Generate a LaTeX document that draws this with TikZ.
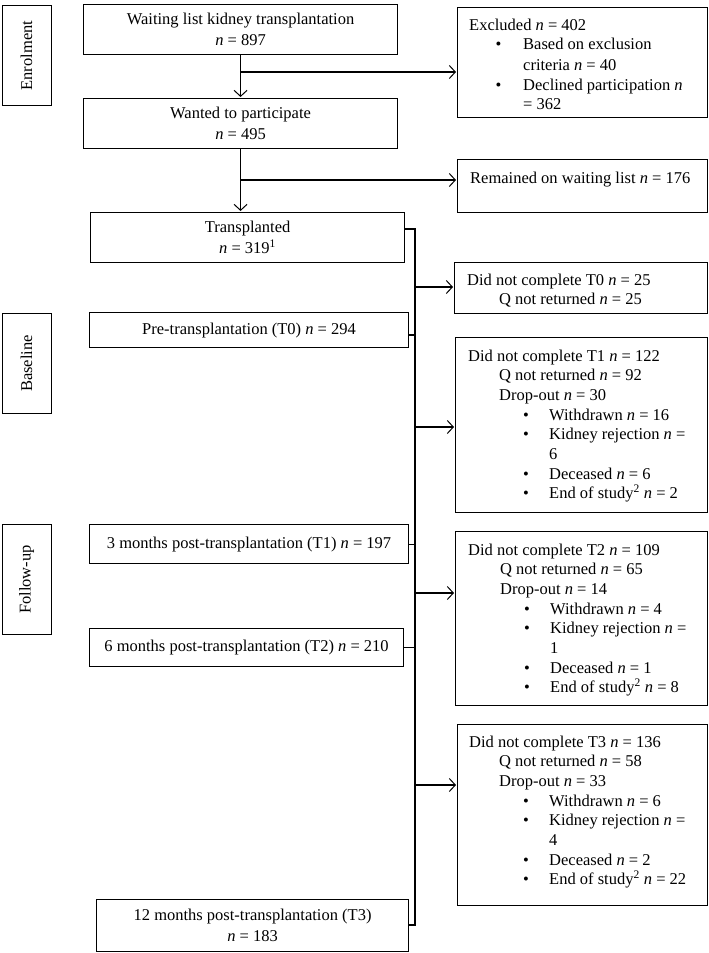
\documentclass[tikz,border=0pt]{standalone}
\usepackage{fontspec}
\setmainfont{Liberation Serif}
\usetikzlibrary{arrows.meta}
\newcommand\nn{\textit{n}}
\newcommand\bul[3]{\hspace*{#1}\makebox[#2][l]{•}#3}
\begin{document}
\begin{tikzpicture}[x=1pt,y=-1pt,
  box/.style={draw, line width=1.1pt, inner sep=0pt, anchor=north west, align=center,
    font=\fontsize{16.5}{20.5}\selectfont},
  txt/.style={anchor=base west, inner sep=0pt, font=\fontsize{16.5}{19.7}\selectfont},
  line/.style={line width=1.1pt},
  arr/.style={line width=1.1pt, -{Straight Barb[length=6pt,width=13pt,line width=1pt]}, shorten >=1pt}]
\useasboundingbox (0,0) rectangle (709,953);
% stage labels
\node[box, minimum width=49pt, minimum height=100pt] (enr) at (1.5,5) {};
\node[rotate=90, font=\fontsize{16.5}{20}\selectfont] (enrt) at (enr.center) {Enrolment};
\node[box, minimum width=49pt, minimum height=100pt] (bas) at (1.5,313) {};
\node[rotate=90, font=\fontsize{16.5}{20}\selectfont] (bast) at (bas.center) {Baseline};
\node[box, minimum width=49pt, minimum height=110pt] (fol) at (1.5,524) {};
\node[rotate=90, font=\fontsize{16.5}{20}\selectfont] (folt) at (fol.center) {Follow-up};
% main column
\node[box, minimum width=314pt, minimum height=50pt] (wl) at (83,4) {Waiting list kidney transplantation\\\nn{} = 897};
\node[box, minimum width=314pt, minimum height=50pt] (wp) at (83,98) {Wanted to participate\\\nn{} = 495};
\node[box, minimum width=314pt, minimum height=50pt] (tr) at (90,212) {Transplanted\\\nn{} = 319\textsuperscript{1}};
\node[box, minimum width=319pt, minimum height=35pt] (t0) at (89,312) {Pre-transplantation (T0) \nn{} = 294};
\node[box, minimum width=319pt, minimum height=39pt] (t1) at (89,524) {3 months post-transplantation (T1) \nn{} = 197};
\node[box, minimum width=314pt, minimum height=38pt] (t2) at (89,628) {6 months post-transplantation (T2) \nn{} = 210};
\node[box, minimum width=312pt, minimum height=52pt] (t3) at (96,899) {12 months post-transplantation (T3)\\\nn{} = 183};
% side boxes
\node[box, minimum width=250pt, minimum height=110pt] (exc) at (457,7) {};
\node[txt, font=\fontsize{16.5}{20}\selectfont] (exct) at ([xshift=12pt,yshift=-23pt]exc.north west) {\parbox[t]{236pt}{%
Excluded \nn{} = 402\\
\bul{26.5pt}{27.5pt}{Based on exclusion}\\
\hspace*{54pt}criteria \nn{} = 40\\
\bul{26.5pt}{27.5pt}{Declined participation \nn}\\
\hspace*{54pt}= 362}};
\node[box, minimum width=250pt, minimum height=53pt] (rem) at (457,159) {};
\node[txt] (remt) at ([xshift=13pt,yshift=-24pt]rem.north west) {Remained on waiting list \nn{} = 176};
\node[box, minimum width=253pt, minimum height=51pt] (e0) at (454,262) {};
\node[txt] (e0t) at ([xshift=13pt,yshift=-23pt]e0.north west) {\parbox[t]{236pt}{%
Did not complete T0 \nn{} = 25\\
\hspace*{32pt}Q not returned \nn{} = 25}};
\node[box, minimum width=252pt, minimum height=175pt] (e1) at (455,337) {};
\node[txt] (e1t) at ([xshift=13pt,yshift=-24pt]e1.north west) {\parbox[t]{236pt}{%
Did not complete T1 \nn{} = 122\\
\hspace*{31pt}Q not returned \nn{} = 92\\
\hspace*{31pt}Drop-out \nn{} = 30\\
\bul{55pt}{26pt}{Withdrawn \nn{} = 16}\\
\bul{55pt}{26pt}{Kidney rejection \nn{} =}\\
\hspace*{81pt}6\\
\bul{55pt}{26pt}{Deceased \nn{} = 6}\\
\bul{55pt}{26pt}{End of study\textsuperscript{2} \nn{} = 2}}};
\node[box, minimum width=252pt, minimum height=174pt] (e2) at (455,531) {};
\node[txt] (e2t) at ([xshift=13pt,yshift=-24pt]e2.north west) {\parbox[t]{236pt}{%
Did not complete T2 \nn{} = 109\\
\hspace*{32pt}Q not returned \nn{} = 65\\
\hspace*{32pt}Drop-out \nn{} = 14\\
\bul{56pt}{26pt}{Withdrawn \nn{} = 4}\\
\bul{56pt}{26pt}{Kidney rejection \nn{} =}\\
\hspace*{82pt}1\\
\bul{56pt}{26pt}{Deceased \nn{} = 1}\\
\bul{56pt}{26pt}{End of study\textsuperscript{2} \nn{} = 8}}};
\node[box, minimum width=250pt, minimum height=181pt] (e3) at (457,724) {};
\node[txt] (e3t) at ([xshift=12pt,yshift=-23pt]e3.north west) {\parbox[t]{236pt}{%
Did not complete T3 \nn{} = 136\\
\hspace*{30pt}Q not returned \nn{} = 58\\
\hspace*{30pt}Drop-out \nn{} = 33\\
\bul{54pt}{26pt}{Withdrawn \nn{} = 6}\\
\bul{54pt}{26pt}{Kidney rejection \nn{} =}\\
\hspace*{80pt}4\\
\bul{54pt}{26pt}{Deceased \nn{} = 2}\\
\bul{54pt}{26pt}{End of study\textsuperscript{2} \nn{} = 22}}};
% connectors top
\draw[arr] (wl.south) -- (wp.north);
\coordinate (a1) at (240,72);
\draw[arr] (a1) -- (a1 -| exc.west);
\coordinate (a2) at (240,180);
\draw[arr] (wp.south) -- (wp.south |- tr.north);
\draw[arr] (a2) -- (a2 -| rem.west);
% spine
\coordinate (sp0) at (415,229);
\coordinate (sp1) at (415,925);
\draw[line] (sp0 -| tr.east) -- (sp0) -- (sp1) -- (sp1 -| t3.east);
\coordinate (j0) at (415,335);
\draw[line] (j0 -| t0.east) -- (j0);
\draw[line] (t1.east) -- (t1.east -| sp0);
\draw[line] (t2.east) -- (t2.east -| sp0);
\coordinate (b0) at (415,287);
\coordinate (b1) at (415,427);
\coordinate (b2) at (415,593);
\coordinate (b3) at (415,785);
\draw[arr] (b0) -- (b0 -| e0.west);
\draw[arr] (b1) -- (b1 -| e1.west);
\draw[arr] (b2) -- (b2 -| e2.west);
\draw[arr] (b3) -- (b3 -| e3.west);
\end{tikzpicture}
\end{document}
